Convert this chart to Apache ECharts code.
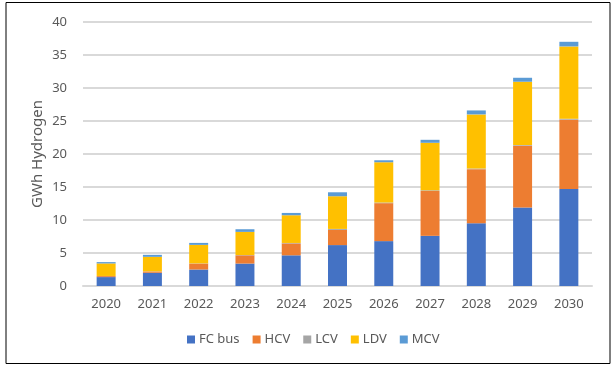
<!DOCTYPE html>
<html>
<head>
<meta charset="utf-8">
<script src="https://cdn.jsdelivr.net/npm/echarts@6/dist/echarts.min.js"></script>
<style>
html,body{margin:0;padding:0;background:#fff;}
#c{width:614px;height:368px;}
</style>
</head>
<body>
<div id="c"></div>
<script>
const categories = ['2020','2021','2022','2023','2024','2025','2026','2027','2028','2029','2030'];
const fcBus = [1.35, 2.0, 2.5, 3.4, 4.65, 6.2, 6.8, 7.6, 9.5, 11.9, 14.7];
const hcv   = [0.15, 0.2, 0.9, 1.25, 1.8, 2.3, 5.75, 6.8, 8.2, 9.35, 10.5];
const lcv   = [0.02, 0.02, 0.03, 0.05, 0.07, 0.15, 0.1, 0.1, 0.1, 0.1, 0.15];
const ldv   = [1.9, 2.2, 2.8, 3.5, 4.2, 4.95, 6.1, 7.2, 8.2, 9.6, 10.95];
const mcv   = [0.2, 0.3, 0.3, 0.4, 0.35, 0.6, 0.3, 0.45, 0.6, 0.6, 0.7];
const yTicks = [0, 5, 10, 15, 20, 25, 30, 35, 40];

const font = 'Noto Sans';
const txt = '#595959';
const chart = echarts.init(document.getElementById('c'), null, {renderer: 'canvas'});

function s(name, data, color) {
  return {name, type: 'bar', stack: 'total', data, barWidth: '41%',
    itemStyle: {color}, emphasis: {disabled: true}};
}

chart.setOption({
  animation: false,
  backgroundColor: '#fff',
  graphic: [{
    type: 'rect', shape: {x: 6, y: 2.5, width: 604, height: 361},
    style: {fill: 'none', stroke: '#000', lineWidth: 1}, silent: true, z: 100
  }],
  grid: {left: 83, right: 22, top: 22, bottom: 82},
  legend: {
    bottom: 17, left: 182,
    itemWidth: 8, itemHeight: 8, itemGap: 13,
    icon: 'rect',
    textStyle: {color: txt, fontFamily: font, fontSize: 13, padding: [0, 0, 0, -1]},
    data: ['FC bus', 'HCV', 'LCV', 'LDV', 'MCV']
  },
  xAxis: {
    type: 'category', data: categories,
    axisLine: {show: true, lineStyle: {color: '#d9d9d9', width: 2}},
    axisTick: {show: false},
    axisLabel: {color: txt, fontFamily: font, fontSize: 13, margin: 12}
  },
  yAxis: {
    type: 'value', min: 0, max: 40, interval: 5,
    name: 'GWh Hydrogen', nameLocation: 'middle', nameGap: 38, nameRotate: 90,
    nameMoveOverlap: false,
    nameTextStyle: {color: txt, fontFamily: font, fontSize: 15},
    axisLine: {show: false}, axisTick: {show: false},
    axisLabel: {color: txt, fontFamily: font, fontSize: 13, margin: 16,
      formatter: v => yTicks.includes(v) ? String(v) : ''},
    splitLine: {lineStyle: {color: '#d9d9d9', width: 2}}
  },
  series: [
    s('FC bus', fcBus, '#4472C4'),
    s('HCV', hcv, '#ED7D31'),
    s('LCV', lcv, '#A5A5A5'),
    s('LDV', ldv, '#FFC000'),
    s('MCV', mcv, '#5B9BD5')
  ]
});
</script>
</body>
</html>
